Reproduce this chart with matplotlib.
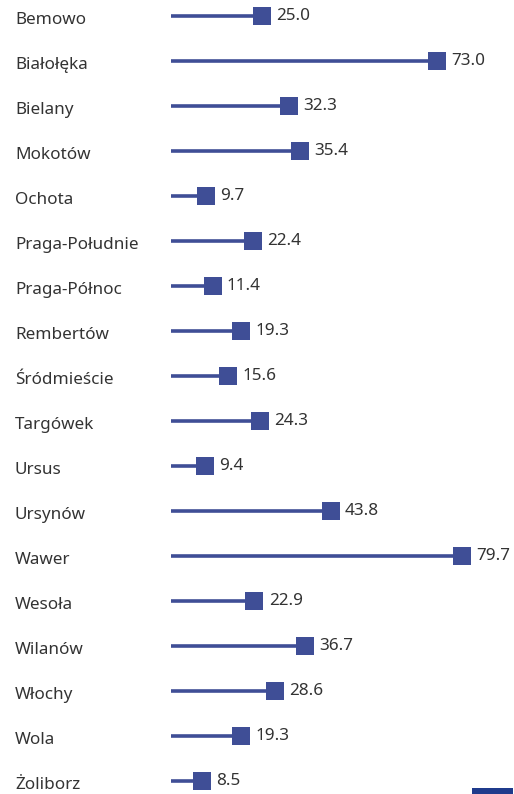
import matplotlib
matplotlib.use("Agg")
import matplotlib.pyplot as plt
import matplotlib.transforms as mtransforms
from matplotlib.patches import Rectangle

districts = ["Bemowo", "Białołęka", "Bielany", "Mokotów", "Ochota", "Praga-Południe",
             "Praga-Północ", "Rembertów", "Śródmieście", "Targówek", "Ursus", "Ursynów",
             "Wawer", "Wesoła", "Wilanów", "Włochy", "Wola", "Żoliborz"]
values = [25.0, 73.0, 32.3, 35.4, 9.7, 22.4, 11.4, 19.3, 15.6, 24.3, 9.4, 43.8,
          79.7, 22.9, 36.7, 28.6, 19.3, 8.5]

plt.rcParams['font.family'] = ['Noto Sans', 'DejaVu Sans']
W, H = 514, 794
fig = plt.figure(figsize=(W / 100, H / 100), dpi=100)
ax = fig.add_axes([0, 0, 1, 1])
ax.set_axis_off()

scale = 3.646  # px per unit
x0 = 171
row_top = 16
row_step = 45
ax.set_xlim(-x0 / scale, (W - x0) / scale)
ax.set_ylim((H - row_top) / row_step, -row_top / row_step)

color = "#3f4e96"
ys = list(range(len(districts)))
ax.hlines(ys, 0, values, color=color, linewidth=2.6)
ax.scatter(values, ys, marker="s", s=150, color=color, zorder=3, linewidths=0)

trans = mtransforms.blended_transform_factory(fig.transFigure, ax.transData)
for y, name, v in zip(ys, districts, values):
    ax.text(15 / W, y + 0.08, name, transform=trans, ha="left", va="center",
            fontsize=12.3, color="#333333")
    ax.text(v + 3.9, y, f"{v:.1f}", ha="left", va="center", fontsize=12.3, color="#333333")

fig.patches.append(Rectangle((472 / W, 0), 41 / W, 6 / H, transform=fig.transFigure,
                             facecolor="#1f3b8c", edgecolor="none"))

fig.savefig("out.png", dpi=100)
